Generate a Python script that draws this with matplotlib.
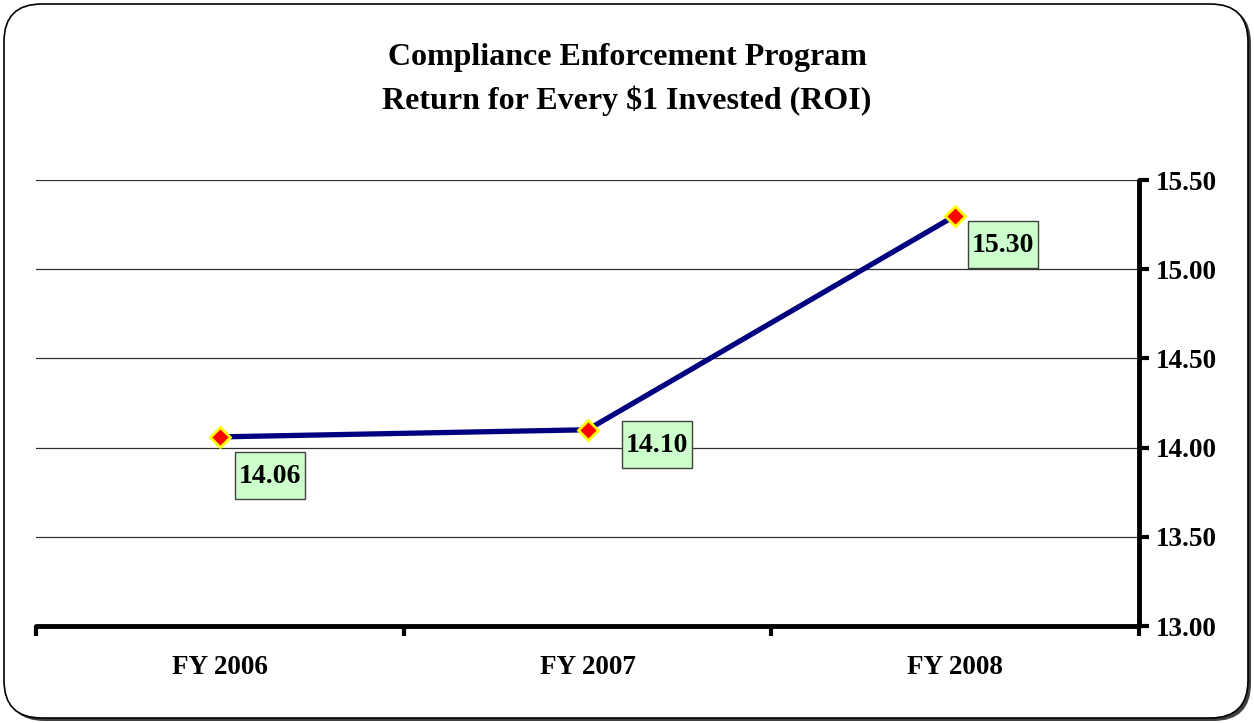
import matplotlib
matplotlib.use("Agg")
import matplotlib.pyplot as plt
from matplotlib.patches import FancyBboxPatch, Rectangle
from matplotlib.transforms import IdentityTransform

categories = ["FY 2006", "FY 2007", "FY 2008"]
roi_values = [14.06, 14.10, 15.30]
value_labels = ["14.06", "14.10", "15.30"]
y_ticks = [13.00, 13.50, 14.00, 14.50, 15.00, 15.50]
title_lines = ["Compliance Enforcement Program", "Return for Every $1 Invested (ROI)"]

plt.rcParams['font.family'] = ['Liberation Serif', 'DejaVu Serif']
W, H = 1254, 723
fig = plt.figure(figsize=(W / 100, H / 100), dpi=100)

# rounded frame with shadow
fig.patches.append(FancyBboxPatch((7 / W, 2 / H), (W - 10) / W, (H - 8) / H,
                                  boxstyle="round,pad=0,rounding_size=0.03",
                                  transform=fig.transFigure, facecolor='#404040',
                                  edgecolor='none', zorder=-2, mutation_aspect=W / H))
fig.patches.append(FancyBboxPatch((4 / W, 5 / H), (W - 10) / W, (H - 9) / H,
                                  boxstyle="round,pad=0,rounding_size=0.03",
                                  transform=fig.transFigure, facecolor='white',
                                  edgecolor='black', linewidth=1.2, zorder=-1,
                                  mutation_aspect=W / H))

ax = fig.add_axes([36 / W, 1 - 626 / H, (1139 - 36) / W, (626 - 180) / H])
ax.set_facecolor('none')
x = list(range(len(categories)))
ax.set_xlim(-0.5, len(categories) - 0.5)
ax.set_ylim(13.0, 15.5)

ax.plot(x, roi_values, color='#000080', linewidth=3.8, zorder=3, solid_capstyle='butt')
ax.plot(x, roi_values, linestyle='none', marker='D', markersize=10,
        markerfacecolor='red', markeredgecolor='yellow', markeredgewidth=2, zorder=4)

offsets = [(50, -39), (69, -15), (48, -29)]
bw, bh = 70, 47
for xi, yi, lab, off in zip(x, roi_values, value_labels, offsets):
    px, py = ax.transData.transform((xi, yi))
    cx, cy = px + off[0], py + off[1]
    ax.add_patch(Rectangle((cx - bw / 2, cy - bh / 2), bw, bh, transform=IdentityTransform(),
                           facecolor='#CCFFCC', edgecolor='#404040', linewidth=1,
                           zorder=5, clip_on=False))
    ax.annotate(lab, (xi, yi), xytext=(off[0], off[1] - 1), textcoords='offset pixels',
                ha='center', va='center', fontsize=20, fontweight='bold', zorder=6)

ax.set_yticks(y_ticks)
ax.set_yticklabels([f"{v:.2f}" for v in y_ticks], fontsize=19.5, fontweight='bold')
ax.yaxis.tick_right()
ax.yaxis.grid(True, color='#303030', linewidth=0.9)
ax.set_axisbelow(True)

ax.set_xticks([-0.5, 0.5, 1.5, 2.5])
ax.set_xticklabels([])
ax.set_xticks(x, minor=True)
ax.set_xticklabels(categories, minor=True, fontsize=19.5, fontweight='bold')
ax.tick_params(axis='x', which='minor', length=0, pad=21)
ax.tick_params(axis='x', which='major', direction='out', length=7, width=3)
ax.tick_params(axis='y', direction='out', length=7, width=3, pad=5)

for s in ['top', 'left']:
    ax.spines[s].set_visible(False)
for s in ['bottom', 'right']:
    ax.spines[s].set_linewidth(3.5)
    ax.spines[s].set_capstyle('round')

fig.text(0.5, 1 - 57 / H, title_lines[0], ha='center', va='center', fontsize=23, fontweight='bold')
fig.text(0.5, 1 - 101 / H, title_lines[1], ha='center', va='center', fontsize=23, fontweight='bold')

fig.savefig('out.png', dpi=100)
